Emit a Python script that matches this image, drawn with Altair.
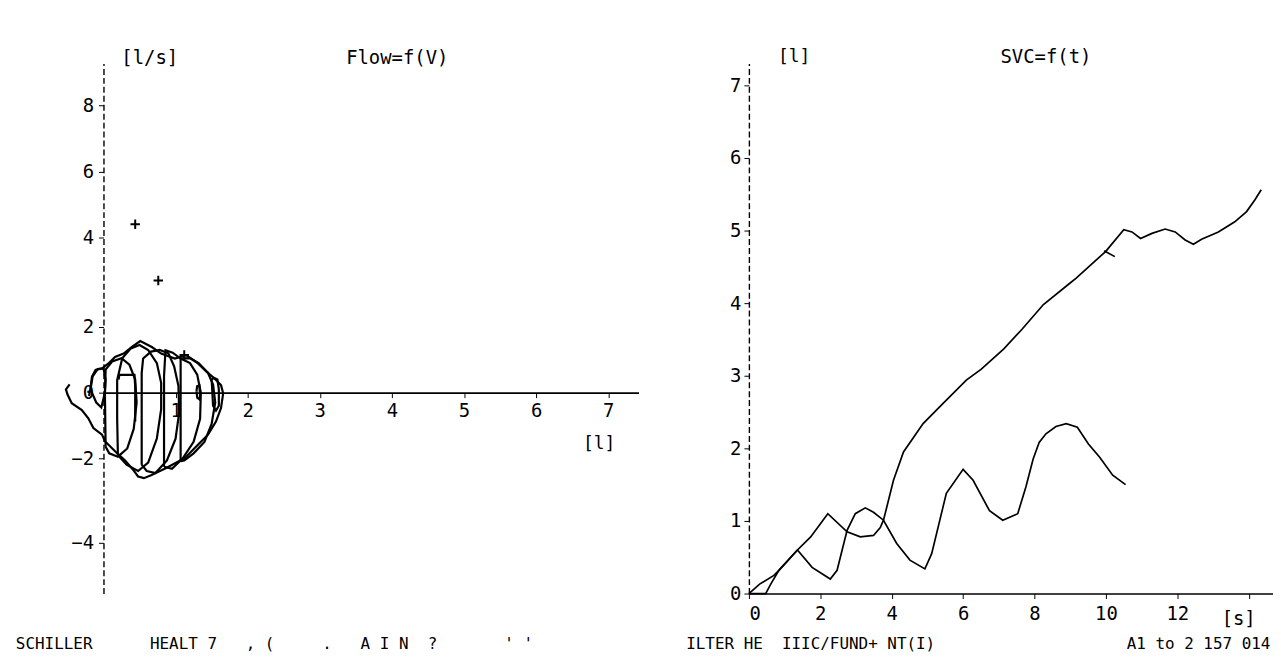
import altair as alt
import pandas as pd

FONT = "DejaVu Sans Mono"

# ---------------- Left panel: Flow = f(V) loops (volume [l], flow [l/s]) ----------------
env_vol = [-0.47, -0.52, -0.50, -0.44, -0.30, -0.21, -0.14, -0.02, 0.02, 0.21, 0.30, 0.41, 0.48, 0.56,
           0.66, 0.87, 1.13, 1.31, 1.45, 1.56, 1.63, 1.66, 1.63, 1.54, 1.43, 1.31, 1.15, 0.99, 0.80,
           0.67, 0.51, 0.39, 0.28, 0.16, 0.07, -0.02, -0.11, -0.16, -0.18, -0.20]
env_flow = [0.25, 0.10, -0.05, -0.32, -0.53, -0.78, -1.08, -1.28, -1.48, -1.89, -2.05, -2.27, -2.43,
            -2.47, -2.40, -2.23, -1.99, -1.59, -1.28, -0.88, -0.47, -0.02, 0.23, 0.43, 0.64, 0.89,
            1.14, 1.04, 1.19, 1.39, 1.57, 1.39, 1.19, 1.09, 0.89, 0.74, 0.69, 0.48, 0.13, -0.10]

small_vol = [-0.18, -0.15, -0.08, 0.00, 0.03, 0.02, -0.03, -0.10, -0.18]
small_flow = [0.10, 0.50, 0.72, 0.74, 0.40, 0.00, -0.45, -0.30, 0.10]

t1_vol = [0.03, 0.02, 0.03, 0.12, 0.25, 0.36, 0.44, 0.46, 0.42, 0.33, 0.20, 0.08, 0.03]
t1_flow = [-1.65, 0.00, 0.70, 0.95, 1.05, 0.85, 0.40, -0.30, -1.10, -1.70, -1.95, -1.85, -1.65]

t2_vol = [0.20, 0.19, 0.19, 0.26, 0.38, 0.50, 0.62, 0.74, 0.80, 0.80, 0.74, 0.62, 0.48, 0.32, 0.20]
t2_flow = [-1.90, -0.80, 0.38, 1.05, 1.35, 1.45, 1.30, 0.90, 0.30, -0.50, -1.40, -2.10, -2.30, -2.15, -1.90]

t3_vol = [0.53, 0.53, 0.53, 0.55, 0.66, 0.78, 0.90, 0.98, 1.04, 1.05, 1.00, 0.88, 0.72, 0.60, 0.53]
t3_flow = [-2.15, -0.80, 0.60, 1.04, 1.25, 1.30, 1.20, 0.80, 0.20, -0.60, -1.40, -2.05, -2.35, -2.30, -2.15]

t4_vol = [0.84, 0.84, 0.84, 0.86, 0.96, 1.07, 1.20, 1.30, 1.35, 1.34, 1.25, 1.10, 0.95, 0.84]
t4_flow = [-2.20, -0.80, 0.50, 1.29, 1.22, 1.04, 0.90, 0.55, 0.00, -0.80, -1.50, -2.00, -2.25, -2.20]

t5_vol = [1.07, 1.07, 1.07, 1.20, 1.32, 1.45, 1.52, 1.55, 1.50, 1.40, 1.25, 1.12, 1.07]
t5_flow = [-2.07, -0.60, 1.04, 1.05, 0.90, 0.60, 0.25, -0.30, -0.95, -1.50, -1.85, -2.05, -2.07]

box_vol = [0.21, 0.22, 0.43, 0.44, 0.44]
box_flow = [0.40, 0.54, 0.54, 0.20, -0.88]

r1_vol = [1.29, 1.30, 1.33, 1.34, 1.33, 1.30, 1.29]
r1_flow = [0.05, 0.20, 0.22, -0.10, -0.20, -0.15, 0.05]

r2_vol = [1.50, 1.53, 1.58, 1.60, 1.60, 1.56, 1.52, 1.50]
r2_flow = [0.40, 0.45, 0.40, 0.10, -0.40, -0.55, -0.40, 0.40]

plus_vol = [0.44, 0.76, 1.12]
plus_flow = [4.4, 3.04, 1.15]

flow_ticks = [-4, -2, 0, 2, 4, 6, 8]
vol_ticks = [1, 2, 3, 4, 5, 6, 7]

# ---------------- Right panel: SVC = f(t) (time [s], volume [l]) ----------------
a_t = [0, 0.3, 0.7, 0.84, 1.36, 1.73, 2.21, 2.75, 3.12, 3.49, 3.68, 3.77, 4.05, 4.33, 4.88, 5.44,
       6.09, 6.51, 7.14, 7.65, 8.25, 8.98, 9.16, 9.99, 10.5, 10.73, 10.97, 11.29, 11.66, 11.94,
       12.22, 12.45, 12.68, 13.15, 13.61, 13.94, 14.17, 14.35]
a_v = [0, 0.13, 0.25, 0.32, 0.60, 0.78, 1.10, 0.85, 0.78, 0.80, 0.91, 1.01, 1.56, 1.95, 2.34, 2.62,
       2.94, 3.09, 3.37, 3.64, 3.98, 4.27, 4.34, 4.71, 5.01, 4.98, 4.89, 4.96, 5.02, 4.98, 4.87,
       4.81, 4.88, 4.98, 5.12, 5.26, 5.42, 5.56]

b_t = [0, 0.47, 0.6, 0.84, 1.36, 1.77, 2.28, 2.47, 2.75, 2.98, 3.26, 3.49, 3.77, 4.14, 4.51, 4.93,
       5.12, 5.53, 6.0, 6.28, 6.74, 7.11, 7.53, 7.76, 7.96, 8.13, 8.32, 8.6, 8.89, 9.2, 9.51, 9.82,
       10.19, 10.55]
b_v = [0, 0, 0.12, 0.32, 0.60, 0.36, 0.20, 0.32, 0.87, 1.10, 1.18, 1.12, 1.01, 0.69, 0.46, 0.34,
       0.55, 1.38, 1.71, 1.56, 1.14, 1.01, 1.10, 1.47, 1.85, 2.08, 2.20, 2.30, 2.34, 2.29, 2.06,
       1.88, 1.63, 1.50]

mark_t = [9.95, 10.25]
mark_v = [4.72, 4.64]

time_ticks = [0, 2, 4, 6, 8, 10, 12, 14]
svc_ticks = [0, 1, 2, 3, 4, 5, 6, 7]

# footer line of the plotter print-out (spaces kept as no-break spaces)
footer_parts = ["SCHILLER", "      ", "HEALT", " ", "7", "   ", ",", " ", "(", "     ", ".", "   ",
                "A I N", "  ", "?", "       ", "' '", "                ",
                "ILTER HE", "  ", "IIIC/FUND+ NT(I)", "                    ", "A1 to 2 157 014"]
footer = "".join(footer_parts).replace(" ", "\u00a0")


def frame(name, xs, ys):
    return pd.DataFrame({"curve": name, "x": xs, "y": ys, "i": list(range(len(xs)))})


loops = pd.concat([
    frame("env", env_vol, env_flow), frame("small", small_vol, small_flow),
    frame("t1", t1_vol, t1_flow), frame("t2", t2_vol, t2_flow), frame("t3", t3_vol, t3_flow),
    frame("t4", t4_vol, t4_flow), frame("t5", t5_vol, t5_flow), frame("box", box_vol, box_flow),
    frame("r1", r1_vol, r1_flow), frame("r2", r2_vol, r2_flow),
], ignore_index=True)
plus_df = pd.DataFrame({"x": plus_vol, "y": plus_flow})

svc = pd.concat([frame("A", a_t, a_v), frame("B", b_t, b_v), frame("M", mark_t, mark_v)],
                ignore_index=True)

LW, LH = 538, 533
RW, RH = 527, 533

lx = alt.X("x:Q", scale=alt.Scale(domain=[0, 7.42], nice=False, zero=False),
           axis=alt.Axis(values=vol_ticks, format="d", offset=-202, grid=False,
                         domainColor="black", domainWidth=1.6, tickColor="black", tickSize=5,
                         labelFont=FONT, labelFontSize=19, labelColor="black", labelPadding=4,
                         title="[l]", titleFont=FONT, titleFontSize=18, titleFontWeight="normal",
                         titleColor="black", titleX=498, titleY=51, titleAlign="center",
                         titleBaseline="middle"))
ly = alt.Y("y:Q", scale=alt.Scale(domain=[-5.2, -4, -2, 2, 4, 8, 9.27],
                                  range=[533, 482, 397, 265, 175, 42, 0], nice=False, zero=False),
           axis=alt.Axis(values=flow_ticks, format="d", grid=False, domainColor="black",
                         domainDash=[6, 3], domainWidth=1.4, tickColor="black", tickSize=5,
                         labelFont=FONT, labelFontSize=19, labelColor="black", labelPadding=5,
                         title="[l/s]", titleFont=FONT, titleFontSize=19, titleFontWeight="normal",
                         titleColor="black", titleAngle=0, titleX=46, titleY=-6,
                         titleAlign="center", titleBaseline="middle"))

left_lines = alt.Chart(loops).mark_line(color="black", strokeWidth=2.2).encode(
    x=lx, y=ly, detail="curve:N", order="i:Q")
left_plus = alt.Chart(plus_df).mark_point(shape="M-1,0L1,0M0,-1L0,1", size=90, color="black",
                                          strokeWidth=2, filled=False, opacity=1).encode(x="x:Q", y="y:Q")
left = alt.layer(left_lines, left_plus).properties(
    width=LW, height=LH,
    title=alt.TitleParams("Flow=f(V)", anchor="start", frame="group", dx=244, offset=-20,
                          font=FONT, fontSize=19, fontWeight="normal", color="black"))

rx = alt.X("x:Q", scale=alt.Scale(domain=[0, 14.68], nice=False, zero=False),
           axis=alt.Axis(values=time_ticks, format="d", grid=False, domainColor="black",
                         domainWidth=1.6, tickColor="black", tickSize=5,
                         labelExpr="datum.value >= 14 ? '' : datum.label",
                         labelFont=FONT, labelFontSize=19, labelColor="black", labelPadding=6,
                         title="[s]", titleFont=FONT, titleFontSize=19, titleFontWeight="normal",
                         titleColor="black", titleX=492, titleY=25, titleAlign="center",
                         titleBaseline="middle"))
ry = alt.Y("y:Q", scale=alt.Scale(domain=[0, 7.3], nice=False, zero=False),
           axis=alt.Axis(values=svc_ticks, format="d", grid=False, domainColor="black",
                         domainDash=[6, 3], domainWidth=1.4, tickColor="black", tickSize=5,
                         labelFont=FONT, labelFontSize=19, labelColor="black", labelPadding=3,
                         title="[l]", titleFont=FONT, titleFontSize=18, titleFontWeight="normal",
                         titleColor="black", titleAngle=0, titleX=45, titleY=-7,
                         titleAlign="center", titleBaseline="middle"))

right = alt.Chart(svc).mark_line(color="black", strokeWidth=1.7).encode(
    x=rx, y=ry, detail="curve:N", order="i:Q").properties(
    width=RW, height=RH,
    title=alt.TitleParams("SVC=f(t)", anchor="start", frame="group", dx=253, offset=-20,
                          font=FONT, fontSize=19, fontWeight="normal", color="black"))

chart = alt.hconcat(left, right, spacing=91).properties(
    background="white",
    padding={"left": 7, "top": 38, "right": 0, "bottom": 0},
    title=alt.TitleParams(footer, orient="bottom", anchor="start", frame="bounds", dx=-46, offset=8,
                          font=FONT, fontSize=16, fontWeight="normal", color="black"),
).configure_view(stroke=None)

chart.save("out.html", embed_options={"renderer": "svg", "actions": False})
